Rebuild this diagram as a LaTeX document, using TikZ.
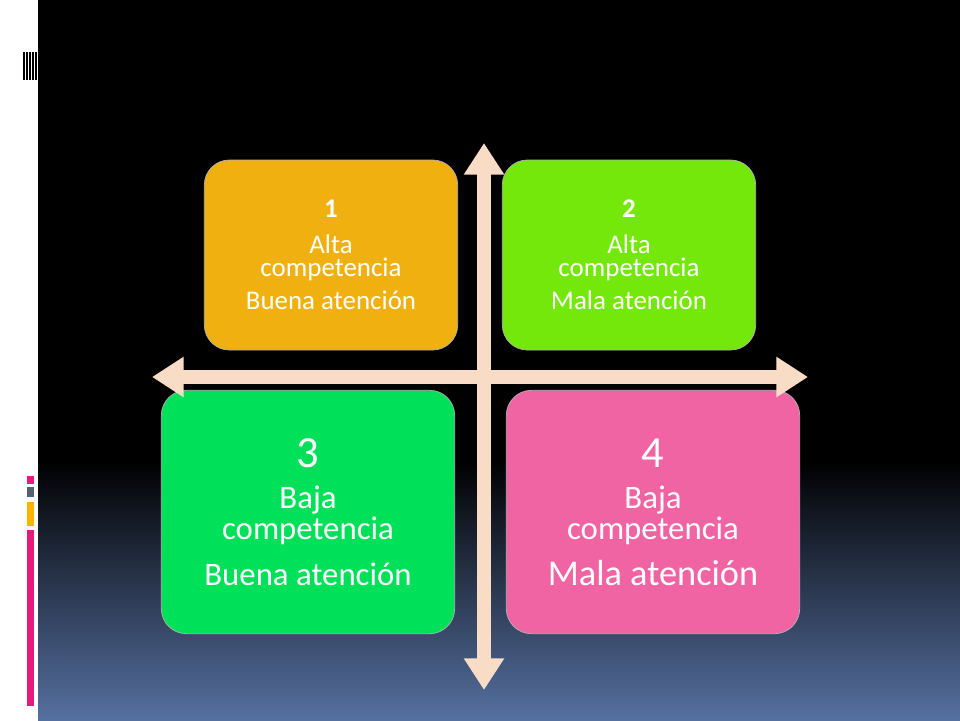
\documentclass[tikz,border=0pt]{standalone}
\usepackage{fontspec}
\setmainfont{Carlito}
\usetikzlibrary{arrows.meta,positioning}
\definecolor{quadorange}{HTML}{F0B010}
\definecolor{quadlime}{HTML}{74E80A}
\definecolor{quadgreen}{HTML}{00E058}
\definecolor{quadpink}{HTML}{F064A4}
\definecolor{axiscol}{HTML}{F8DCC6}
\definecolor{bgblue}{HTML}{5670A0}
\definecolor{barpink}{HTML}{E8197C}
\definecolor{bargray}{HTML}{556070}
\definecolor{baryellow}{HTML}{F8B400}
\begin{document}
\begin{tikzpicture}[x=0.03cm, y=-0.03cm,
  quad/.style={rectangle, rounded corners=0.75cm, draw=white!70!black, line width=0.6pt, text=white, align=center, inner sep=0pt},
  small/.style={quad, minimum width=7.6cm, minimum height=5.7cm, font=\fontsize{23}{19}\selectfont},
  big/.style={quad, minimum width=8.8cm, minimum height=7.3cm, font=\fontsize{28}{27}\selectfont},
  axis/.style={axiscol, line width=0.42cm, -{Triangle[length=0.95cm, width=1.15cm]}}]
\useasboundingbox (0,0) rectangle (960,720);
% background
\fill[white] (0,0) rectangle (38,720);
\fill[black] (38,0) rectangle (960,460);
\shade[top color=black, bottom color=bgblue] (38,460) rectangle (960,720);
\foreach \x in {23,26,29,32,35} \fill[black] (\x,52) rectangle ++(1.5,28);
\fill[barpink] (27,476) rectangle (34,484);
\fill[bargray] (27,487) rectangle (34,497);
\fill[baryellow] (27,502) rectangle (34,526);
\fill[barpink] (27,530) rectangle (34,706);
% quadrants
\node[small, fill=quadorange] (q1) at (331,255) {\textbf{1}\\[12pt] Alta\\ competencia\\[8pt] Buena atención};
\node[small, fill=quadlime] (q2) at (629,255) {\textbf{2}\\[12pt] Alta\\ competencia\\[8pt] Mala atención};
\node[big, fill=quadgreen] (q3) at (308,512) {{\fontsize{38}{34}\selectfont 3}\\[8pt] Baja\\ competencia\\[12pt] Buena atención};
\node[big, fill=quadpink] (q4) at (653,512) {{\fontsize{38}{34}\selectfont 4}\\[8pt] Baja\\ competencia\\[12pt] {\fontsize{31}{30}\selectfont Mala atención}};
% axes
\coordinate (top) at (484,143);
\coordinate (bottom) at (484,690);
\coordinate (left) at (152,377);
\coordinate (right) at (808,377);
\coordinate (mid) at (484,377);
\draw[axis] (mid) -- (top);
\draw[axis] (mid) -- (bottom);
\draw[axis] (mid) -- (left);
\draw[axis] (mid) -- (right);
\end{tikzpicture}
\end{document}
